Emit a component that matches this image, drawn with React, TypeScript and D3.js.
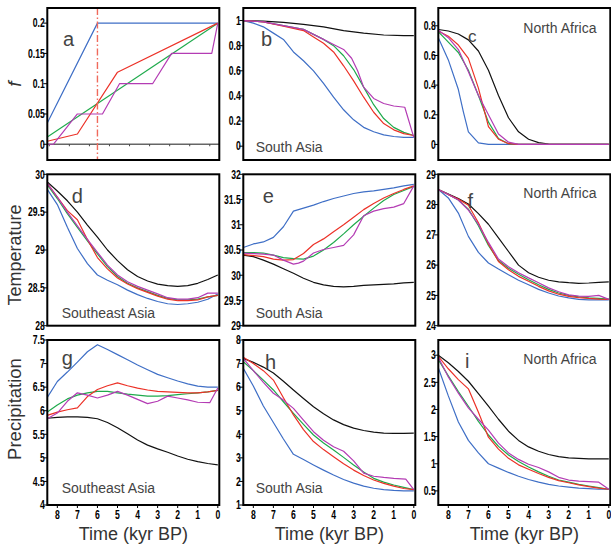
import React from "react";
import * as d3 from "d3";

type P = [number, number];

// ---------- Panel a : f ----------
const aBlue: P[] = [[8.5, 0.035], [6, 0.2], [0, 0.2]];
const aRed: P[] = [[8.5, 0.005], [7, 0.017], [5, 0.119], [0, 0.2]];
const aGreen: P[] = [[8.5, 0.012], [0, 0.2]];
const aMagenta: P[] = [[8.5, 0], [8.2, 0], [7, 0.05], [5.75, 0.05], [4.9, 0.1], [3.25, 0.1], [2.3, 0.15], [0.3, 0.15], [0, 0.2]];
const aZeroTicks = [8.4, 7.4, 6.4, 5.4, 4.4, 3.4, 2.4, 1.4, 0.4];
const aMarker = 6;

// ---------- Panel b : f, South Asia ----------
const bBlack: P[] = [[8.5, 1], [7.5, 0.995], [6.5, 0.985], [5.5, 0.97], [4.5, 0.95], [3.5, 0.92], [2.5, 0.9], [1.5, 0.885], [0.5, 0.88], [0, 0.88]];
const bBlue: P[] = [[8.5, 1], [8, 0.98], [7.5, 0.95], [7, 0.9], [6.5, 0.85], [6, 0.75], [5.5, 0.68], [5, 0.6], [4.5, 0.5], [4, 0.39], [3.5, 0.29], [3, 0.21], [2.5, 0.15], [2, 0.115], [1.5, 0.09], [1, 0.077], [0.5, 0.07], [0, 0.07]];
const bRed: P[] = [[8.5, 1], [7.5, 0.99], [6.5, 0.955], [5.5, 0.92], [5, 0.87], [4.5, 0.82], [4, 0.75], [3.5, 0.64], [3, 0.52], [2.5, 0.39], [2, 0.27], [1.5, 0.18], [1, 0.13], [0.5, 0.1], [0, 0.085]];
const bGreen: P[] = [[8.5, 1], [7.5, 0.99], [6.5, 0.96], [5.5, 0.93], [5, 0.89], [4.5, 0.85], [4, 0.8], [3.5, 0.72], [3, 0.61], [2.5, 0.47], [2, 0.33], [1.5, 0.22], [1, 0.15], [0.5, 0.11], [0, 0.085]];
const bMagenta: P[] = [[8.5, 1], [7.5, 0.99], [6.5, 0.96], [5.5, 0.93], [5, 0.89], [4.5, 0.85], [4, 0.81], [3.5, 0.77], [3.1, 0.7], [2.8, 0.6], [2.5, 0.47], [2, 0.38], [1.5, 0.34], [1, 0.32], [0.45, 0.31], [0, 0.07]];

// ---------- Panel c : f, North Africa ----------
const cBlack: P[] = [[8.5, 0.775], [8, 0.765], [7.5, 0.745], [7, 0.705], [6.5, 0.63], [6, 0.5], [5.5, 0.33], [5, 0.18], [4.5, 0.085], [4, 0.035], [3.5, 0.012], [3, 0.003], [2.5, 0], [0, 0]];
const cBlue: P[] = [[8.5, 0.72], [8, 0.57], [7.5, 0.37], [7.25, 0.22], [7, 0.085], [6.5, 0.01], [6, 0], [0, 0]];
const cRed: P[] = [[8.5, 0.765], [8, 0.73], [7.5, 0.67], [7, 0.58], [6.5, 0.38], [6, 0.12], [5.5, 0.035], [5, 0.005], [4.5, 0], [0, 0]];
const cGreen: P[] = [[8.5, 0.76], [8, 0.69], [7.5, 0.62], [7, 0.5], [6.5, 0.33], [6, 0.15], [5.5, 0.04], [5, 0.005], [4.5, 0], [0, 0]];
const cMagenta: P[] = [[8.5, 0.77], [8, 0.72], [7.5, 0.64], [7, 0.49], [6.5, 0.33], [6, 0.2], [5.5, 0.07], [5, 0.015], [4.5, 0], [0, 0]];

// ---------- Panel d : Temperature, Southeast Asia ----------
const dBlack: P[] = [[8.5, 29.9], [8, 29.78], [7.5, 29.65], [7, 29.5], [6.5, 29.33], [6, 29.17], [5.5, 29.0], [5, 28.86], [4.5, 28.74], [4, 28.65], [3.5, 28.59], [3, 28.55], [2.5, 28.53], [2, 28.52], [1.5, 28.53], [1, 28.56], [0.5, 28.61], [0, 28.67]];
const dBlue: P[] = [[8.5, 29.8], [8, 29.6], [7.5, 29.3], [7, 29.02], [6.5, 28.82], [6, 28.67], [5.5, 28.6], [5, 28.54], [4.5, 28.47], [4, 28.41], [3.5, 28.36], [3, 28.32], [2.5, 28.29], [2, 28.28], [1.5, 28.29], [1, 28.31], [0.5, 28.35], [0, 28.42]];
const dRed: P[] = [[8.5, 29.88], [8, 29.7], [7.5, 29.52], [7, 29.4], [6.5, 29.14], [6, 28.9], [5.5, 28.75], [5, 28.63], [4.5, 28.55], [4, 28.49], [3.5, 28.44], [3, 28.39], [2.5, 28.35], [2, 28.33], [1.5, 28.33], [1, 28.34], [0.5, 28.38], [0, 28.4]];
const dGreen: P[] = [[8.5, 29.86], [8, 29.68], [7.5, 29.48], [7, 29.3], [6.5, 29.12], [6, 28.95], [5.5, 28.78], [5, 28.65], [4.5, 28.56], [4, 28.5], [3.5, 28.45], [3, 28.4], [2.5, 28.36], [2, 28.34], [1.5, 28.34], [1, 28.35], [0.5, 28.38], [0, 28.4]];
const dMagenta: P[] = [[8.5, 29.88], [8, 29.7], [7.5, 29.5], [7, 29.32], [6.5, 29.14], [6, 28.97], [5.5, 28.8], [5, 28.67], [4.5, 28.58], [4, 28.52], [3.5, 28.47], [3, 28.42], [2.5, 28.37], [2, 28.35], [1.5, 28.35], [1, 28.37], [0.5, 28.43], [0, 28.43]];

// ---------- Panel e : Temperature, South Asia ----------
const eBlack: P[] = [[8.5, 30.4], [8, 30.37], [7.5, 30.3], [7, 30.22], [6.5, 30.13], [6, 30.04], [5.5, 29.94], [5, 29.86], [4.5, 29.81], [4, 29.78], [3.5, 29.77], [3, 29.78], [2.5, 29.8], [2, 29.81], [1.5, 29.82], [1, 29.83], [0.5, 29.85], [0, 29.86]];
const eBlue: P[] = [[8.5, 30.55], [8, 30.62], [7.5, 30.66], [7, 30.75], [6.5, 30.96], [6, 31.27], [5.5, 31.33], [5, 31.39], [4.5, 31.46], [4, 31.52], [3.5, 31.57], [3, 31.62], [2.5, 31.65], [2, 31.67], [1.5, 31.7], [1, 31.73], [0.5, 31.77], [0, 31.8]];
const eRed: P[] = [[8.5, 30.41], [8, 30.39], [7.5, 30.37], [7, 30.32], [6.5, 30.3], [6, 30.31], [5.5, 30.43], [5, 30.61], [4.5, 30.72], [4, 30.86], [3.5, 31.0], [3, 31.15], [2.5, 31.3], [2, 31.42], [1.5, 31.53], [1, 31.62], [0.5, 31.7], [0, 31.77]];
const eGreen: P[] = [[8.5, 30.45], [8, 30.45], [7.5, 30.44], [7, 30.4], [6.5, 30.35], [6, 30.33], [5.5, 30.32], [5, 30.38], [4.5, 30.5], [4, 30.65], [3.5, 30.82], [3, 31.0], [2.5, 31.17], [2, 31.33], [1.5, 31.48], [1, 31.6], [0.5, 31.68], [0, 31.76]];
const eMagenta: P[] = [[8.5, 30.44], [8, 30.43], [7.5, 30.42], [7, 30.4], [6.5, 30.3], [6, 30.22], [5.75, 30.24], [5.5, 30.28], [5, 30.44], [4.5, 30.51], [4, 30.55], [3.5, 30.59], [3, 30.8], [2.5, 31.18], [2, 31.27], [1.5, 31.32], [1, 31.35], [0.5, 31.42], [0, 31.77]];

// ---------- Panel f : Temperature, North Africa ----------
const fBlack: P[] = [[8.5, 28.5], [8, 28.35], [7.5, 28.2], [7, 28.02], [6.5, 27.7], [6, 27.35], [5.5, 26.9], [5, 26.45], [4.5, 26.0], [4, 25.75], [3.5, 25.6], [3, 25.5], [2.5, 25.45], [2, 25.42], [1.5, 25.4], [1, 25.41], [0.5, 25.43], [0, 25.45]];
const fBlue: P[] = [[8.5, 28.5], [8, 28.22], [7.5, 27.72], [7, 26.95], [6.5, 26.42], [6, 26.07], [5.5, 25.87], [5, 25.68], [4.5, 25.5], [4, 25.35], [3.5, 25.2], [3, 25.08], [2.5, 24.98], [2, 24.92], [1.5, 24.87], [1, 24.85], [0.5, 24.85], [0, 24.85]];
const fRed: P[] = [[8.5, 28.5], [8, 28.33], [7.5, 28.18], [7, 27.98], [6.5, 27.4], [6, 26.7], [5.5, 26.12], [5, 25.85], [4.5, 25.63], [4, 25.47], [3.5, 25.3], [3, 25.15], [2.5, 25.04], [2, 24.97], [1.5, 24.93], [1, 24.9], [0.5, 24.88], [0, 24.87]];
const fGreen: P[] = [[8.5, 28.5], [8, 28.33], [7.5, 28.15], [7, 27.85], [6.5, 27.3], [6, 26.65], [5.5, 26.15], [5, 25.9], [4.5, 25.7], [4, 25.52], [3.5, 25.35], [3, 25.2], [2.5, 25.08], [2, 25.0], [1.5, 24.95], [1, 24.92], [0.5, 24.9], [0, 24.88]];
const fMagenta: P[] = [[8.5, 28.5], [8, 28.33], [7.5, 28.15], [7, 27.82], [6.5, 27.35], [6, 26.75], [5.5, 26.2], [5, 25.95], [4.5, 25.75], [4, 25.58], [3.5, 25.42], [3, 25.25], [2.5, 25.12], [2, 25.02], [1.5, 24.98], [1, 24.97], [0.5, 25.0], [0, 24.87]];

// ---------- Panel g : Precipitation, Southeast Asia ----------
const gBlack: P[] = [[8.5, 5.84], [8, 5.86], [7.5, 5.87], [7, 5.87], [6.5, 5.86], [6, 5.83], [5.5, 5.75], [5, 5.64], [4.5, 5.51], [4, 5.38], [3.5, 5.27], [3, 5.19], [2.5, 5.12], [2, 5.04], [1.5, 4.97], [1, 4.92], [0.5, 4.88], [0, 4.85]];
const gBlue: P[] = [[8.5, 6.28], [8, 6.62], [7.5, 6.82], [7, 7.03], [6.5, 7.25], [6, 7.4], [5.5, 7.3], [5, 7.19], [4.5, 7.08], [4, 6.97], [3.5, 6.87], [3, 6.77], [2.5, 6.7], [2, 6.63], [1.5, 6.57], [1, 6.52], [0.5, 6.5], [0, 6.5]];
const gRed: P[] = [[8.5, 5.9], [8, 5.97], [7.5, 6.02], [7, 6.06], [6.5, 6.3], [6, 6.45], [5.5, 6.53], [5, 6.59], [4.5, 6.53], [4, 6.48], [3.5, 6.44], [3, 6.41], [2.5, 6.4], [2, 6.39], [1.5, 6.38], [1, 6.38], [0.5, 6.4], [0, 6.43]];
const gGreen: P[] = [[8.5, 5.97], [8, 6.12], [7.5, 6.25], [7, 6.33], [6.5, 6.38], [6, 6.41], [5.5, 6.41], [5, 6.38], [4.5, 6.35], [4, 6.33], [3.5, 6.31], [3, 6.31], [2.5, 6.32], [2, 6.34], [1.5, 6.36], [1, 6.38], [0.5, 6.4], [0, 6.43]];
const gMagenta: P[] = [[8.5, 5.83], [8, 5.95], [7.5, 6.2], [7, 6.38], [6.5, 6.33], [6, 6.27], [5.5, 6.33], [5, 6.41], [4.5, 6.33], [4, 6.24], [3.5, 6.15], [3, 6.2], [2.5, 6.31], [2, 6.27], [1.5, 6.23], [1, 6.18], [0.4, 6.17], [0, 6.48]];

// ---------- Panel h : Precipitation, South Asia ----------
const hBlack: P[] = [[8.5, 7.22], [8, 7.05], [7.5, 6.85], [7, 6.6], [6.5, 6.25], [6, 5.88], [5.5, 5.52], [5, 5.17], [4.5, 4.87], [4, 4.61], [3.5, 4.41], [3, 4.26], [2.5, 4.16], [2, 4.09], [1.5, 4.05], [1, 4.04], [0.5, 4.04], [0, 4.05]];
const hBlue: P[] = [[8.5, 6.8], [8, 6.05], [7.5, 5.2], [7, 4.5], [6.5, 3.8], [6, 3.15], [5.5, 2.93], [5, 2.7], [4.5, 2.48], [4, 2.27], [3.5, 2.08], [3, 1.93], [2.5, 1.8], [2, 1.71], [1.5, 1.65], [1, 1.62], [0.5, 1.6], [0, 1.6]];
const hRed: P[] = [[8.5, 7.27], [8, 7.0], [7.5, 6.7], [7, 6.3], [6.5, 5.55], [6, 4.82], [5.5, 4.2], [5, 3.69], [4.5, 3.35], [4, 3.05], [3.5, 2.75], [3, 2.48], [2.5, 2.25], [2, 2.06], [1.5, 1.92], [1, 1.8], [0.5, 1.7], [0, 1.65]];
const hGreen: P[] = [[8.5, 7.08], [8, 6.7], [7.5, 6.3], [7, 5.88], [6.5, 5.38], [6, 4.89], [5.5, 4.42], [5, 3.97], [4.5, 3.63], [4, 3.33], [3.5, 3.02], [3, 2.7], [2.5, 2.4], [2, 2.13], [1.5, 1.97], [1, 1.85], [0.5, 1.75], [0, 1.65]];
const hMagenta: P[] = [[8.5, 7.22], [8, 6.7], [7.5, 6.2], [7, 5.74], [6.5, 5.45], [6, 5.1], [5.5, 4.6], [5, 4.11], [4.5, 3.75], [4, 3.47], [3.5, 3.28], [3, 2.87], [2.5, 2.35], [2, 2.22], [1.5, 2.17], [1, 2.13], [0.4, 2.1], [0, 1.65]];

// ---------- Panel i : Precipitation, North Africa ----------
const iBlack: P[] = [[8.5, 3.0], [8, 2.86], [7.5, 2.7], [7, 2.52], [6.5, 2.29], [6, 2.06], [5.5, 1.82], [5, 1.6], [4.5, 1.43], [4, 1.31], [3.5, 1.23], [3, 1.17], [2.5, 1.13], [2, 1.11], [1.5, 1.1], [1, 1.09], [0.5, 1.09], [0, 1.09]];
const iBlue: P[] = [[8.5, 2.77], [8, 2.25], [7.5, 1.77], [7, 1.43], [6.5, 1.2], [6, 1.0], [5.5, 0.92], [5, 0.84], [4.5, 0.77], [4, 0.71], [3.5, 0.66], [3, 0.62], [2.5, 0.59], [2, 0.57], [1.5, 0.55], [1, 0.54], [0.5, 0.53], [0, 0.53]];
const iRed: P[] = [[8.5, 2.98], [8, 2.75], [7.5, 2.55], [7, 2.38], [6.5, 1.95], [6, 1.49], [5.5, 1.27], [5, 1.1], [4.5, 0.98], [4, 0.9], [3.5, 0.82], [3, 0.75], [2.5, 0.69], [2, 0.65], [1.5, 0.61], [1, 0.58], [0.5, 0.55], [0, 0.53]];
const iGreen: P[] = [[8.5, 2.92], [8, 2.62], [7.5, 2.33], [7, 2.06], [6.5, 1.78], [6, 1.53], [5.5, 1.32], [5, 1.16], [4.5, 1.04], [4, 0.94], [3.5, 0.85], [3, 0.77], [2.5, 0.7], [2, 0.66], [1.5, 0.62], [1, 0.59], [0.5, 0.56], [0, 0.53]];
const iMagenta: P[] = [[8.5, 2.96], [8, 2.6], [7.5, 2.3], [7, 2.03], [6.5, 1.82], [6, 1.62], [5.5, 1.38], [5, 1.2], [4.5, 1.08], [4, 0.99], [3.5, 0.93], [3, 0.85], [2.5, 0.75], [2, 0.7], [1.5, 0.68], [1, 0.67], [0.5, 0.66], [0, 0.53]];

// ---------- Axes ----------
const xTicks = [8, 7, 6, 5, 4, 3, 2, 1, 0];
const ticksA = [0, 0.05, 0.1, 0.15, 0.2];
const ticksB = [0, 0.2, 0.4, 0.6, 0.8, 1];
const ticksC = [0, 0.2, 0.4, 0.6, 0.8];
const ticksD = [28, 28.5, 29, 29.5, 30];
const ticksE = [29, 29.5, 30, 30.5, 31, 31.5, 32];
const ticksF = [24, 25, 26, 27, 28, 29];
const ticksG = [4, 4.5, 5, 5.5, 6, 6.5, 7, 7.5];
const ticksH = [1, 2, 3, 4, 5, 6, 7, 8];
const ticksI = [0.5, 1, 1.5, 2, 2.5, 3];

const rowTitles = ["f", "Temperature", "Precipitation"];
const xTitle = "Time (kyr BP)";

const COLORS = {
  black: "#111111",
  blue: "#3f6fc6",
  green: "#1faa4c",
  red: "#ec3228",
  magenta: "#b43cb4",
};

const colX = [47.3, 243.3, 438.3];
const colW = 172;
const rowY = [8, 174.3, 340];
const rowH = [152, 151.4, 165];

type Panel = {
  id: string;
  col: number;
  row: number;
  domain: [number, number];
  ticks: number[];
  series: { key: keyof typeof COLORS; data: P[] }[];
  letter: { x: number; y: number; size: number };
  region?: { text: string; x: number; y: number };
};

const panels: Panel[] = [
  { id: "a", col: 0, row: 0, domain: [-0.026, 0.225], ticks: ticksA,
    series: [{ key: "blue", data: aBlue }, { key: "green", data: aGreen }, { key: "red", data: aRed }, { key: "magenta", data: aMagenta }],
    letter: { x: 63, y: 45.7, size: 20 } },
  { id: "b", col: 1, row: 0, domain: [-0.11, 1.1], ticks: ticksB,
    series: [{ key: "black", data: bBlack }, { key: "blue", data: bBlue }, { key: "green", data: bGreen }, { key: "red", data: bRed }, { key: "magenta", data: bMagenta }],
    letter: { x: 261, y: 45.7, size: 20 }, region: { text: "South Asia", x: 255.7, y: 151.7 } },
  { id: "c", col: 2, row: 0, domain: [-0.105, 0.92], ticks: ticksC,
    series: [{ key: "black", data: cBlack }, { key: "blue", data: cBlue }, { key: "green", data: cGreen }, { key: "red", data: cRed }, { key: "magenta", data: cMagenta }],
    letter: { x: 468, y: 41.7, size: 17 }, region: { text: "North Africa", x: 523.3, y: 33.3 } },
  { id: "d", col: 0, row: 1, domain: [28, 30], ticks: ticksD,
    series: [{ key: "black", data: dBlack }, { key: "blue", data: dBlue }, { key: "green", data: dGreen }, { key: "red", data: dRed }, { key: "magenta", data: dMagenta }],
    letter: { x: 71.7, y: 202.7, size: 20 }, region: { text: "Southeast Asia", x: 61.7, y: 318.3 } },
  { id: "e", col: 1, row: 1, domain: [29, 32], ticks: ticksE,
    series: [{ key: "black", data: eBlack }, { key: "blue", data: eBlue }, { key: "green", data: eGreen }, { key: "red", data: eRed }, { key: "magenta", data: eMagenta }],
    letter: { x: 262.7, y: 203.3, size: 20 }, region: { text: "South Asia", x: 255.7, y: 318.3 } },
  { id: "f", col: 2, row: 1, domain: [24, 29], ticks: ticksF,
    series: [{ key: "black", data: fBlack }, { key: "blue", data: fBlue }, { key: "green", data: fGreen }, { key: "red", data: fRed }, { key: "magenta", data: fMagenta }],
    letter: { x: 467.5, y: 208.3, size: 20 }, region: { text: "North Africa", x: 523.3, y: 198.3 } },
  { id: "g", col: 0, row: 2, domain: [4, 7.5], ticks: ticksG,
    series: [{ key: "black", data: gBlack }, { key: "blue", data: gBlue }, { key: "green", data: gGreen }, { key: "red", data: gRed }, { key: "magenta", data: gMagenta }],
    letter: { x: 61.7, y: 365, size: 20 }, region: { text: "Southeast Asia", x: 61.7, y: 493.3 } },
  { id: "h", col: 1, row: 2, domain: [1, 8], ticks: ticksH,
    series: [{ key: "black", data: hBlack }, { key: "blue", data: hBlue }, { key: "green", data: hGreen }, { key: "red", data: hRed }, { key: "magenta", data: hMagenta }],
    letter: { x: 265, y: 369, size: 20 }, region: { text: "South Asia", x: 255.7, y: 493.3 } },
  { id: "i", col: 2, row: 2, domain: [0.24, 3.28], ticks: ticksI,
    series: [{ key: "black", data: iBlack }, { key: "blue", data: iBlue }, { key: "green", data: iGreen }, { key: "red", data: iRed }, { key: "magenta", data: iMagenta }],
    letter: { x: 465, y: 368.3, size: 20 }, region: { text: "North Africa", x: 523.3, y: 364.3 } },
];

const TICK_FONT = "'Liberation Sans', Arial, sans-serif";
const TEXT_FONT = "'Liberation Sans', Arial, Helvetica, sans-serif";

function fmt(v: number) {
  return String(+v.toFixed(2));
}

function TickLabel({ x, y, anchor, children }: { x: number; y: number; anchor: string; children: React.ReactNode }) {
  return (
    <text
      transform={`translate(${x},${y}) scale(0.72,1)`}
      textAnchor={anchor}
      fontFamily={TICK_FONT}
      fontWeight="bold"
      fontSize={12}
      fill="#000"
    >
      {children}
    </text>
  );
}

function PanelView({ p }: { p: Panel }) {
  const x0 = colX[p.col];
  const y0 = rowY[p.row];
  const h = rowH[p.row];
  const x = d3.scaleLinear().domain([8.5, 0]).range([x0, x0 + colW - 1.5]);
  const y = d3.scaleLinear().domain(p.domain).range([y0 + h, y0]);
  const line = d3.line<P>().x((d) => x(d[0])).y((d) => y(d[1]));
  const clipId = `clip-${p.id}`;
  return (
    <g>
      <defs>
        <clipPath id={clipId}>
          <rect x={x0} y={y0} width={colW} height={h} />
        </clipPath>
      </defs>
      {p.id === "a" && (
        <g>
          <line x1={x0} x2={x0 + colW} y1={y(0)} y2={y(0)} stroke="#666" strokeWidth={1.6} />
          {aZeroTicks.map((t) => (
            <line key={t} x1={x(t)} x2={x(t)} y1={y(0)} y2={y(0) + 2} stroke="#444" strokeWidth={1} />
          ))}
        </g>
      )}
      <g clipPath={`url(#${clipId})`}>
        {p.series.map((s) => (
          <path key={s.key} d={line(s.data) || ""} fill="none" stroke={COLORS[s.key]} strokeWidth={1.2} strokeLinejoin="round" />
        ))}
      </g>
      {p.id === "a" && (
        <line x1={x(aMarker)} x2={x(aMarker)} y1={y0} y2={y0 + h} stroke="#f06a5c" strokeWidth={1.4} strokeDasharray="7,2.5,1.5,2.5" />
      )}
      <rect x={x0} y={y0} width={colW} height={h} fill="none" stroke="#000" strokeWidth={2} />
      {p.ticks.map((t) => (
        <g key={t}>
          <line x1={x0 - 4} x2={x0} y1={y(t)} y2={y(t)} stroke="#000" strokeWidth={1} />
          <TickLabel x={x0 - 2.5} y={y(t) + 4.3} anchor="end">
            {fmt(t)}
          </TickLabel>
        </g>
      ))}
      {p.row === 2 &&
        xTicks.map((t) => (
          <g key={t}>
            <line x1={x(t)} x2={x(t)} y1={y0 + h} y2={y0 + h + 3} stroke="#000" strokeWidth={1} />
            <TickLabel x={x(t)} y={y0 + h + 14} anchor="middle">
              {t}
            </TickLabel>
          </g>
        ))}
      <text x={p.letter.x} y={p.letter.y} fontFamily={TEXT_FONT} fontSize={p.letter.size} fill="#444">
        {p.id}
      </text>
      {p.region && (
        <text x={p.region.x} y={p.region.y} fontFamily={TEXT_FONT} fontSize={14} fill="#444">
          {p.region.text}
        </text>
      )}
      {p.row === 2 && (
        <text x={x0 + colW / 2} y={540} textAnchor="middle" fontFamily={TEXT_FONT} fontSize={18} fill="#333">
          {xTitle}
        </text>
      )}
    </g>
  );
}

export default function App() {
  return (
    <svg width={611} height={547} style={{ position: "absolute", left: 0, top: 0, background: "#fff" }}>
      <rect x={0} y={0} width={611} height={547} fill="#fff" />
      {panels.map((p) => (
        <PanelView key={p.id} p={p} />
      ))}
      <text transform="translate(21,84) rotate(-90)" textAnchor="middle" fontFamily={TEXT_FONT} fontStyle="italic" fontSize={19} fill="#333">
        {rowTitles[0]}
      </text>
      <text transform="translate(21,255) rotate(-90)" textAnchor="middle" fontFamily={TEXT_FONT} fontSize={18} fill="#333">
        {rowTitles[1]}
      </text>
      <text transform="translate(21,409) rotate(-90)" textAnchor="middle" fontFamily={TEXT_FONT} fontSize={18.5} fill="#333">
        {rowTitles[2]}
      </text>
    </svg>
  );
}
